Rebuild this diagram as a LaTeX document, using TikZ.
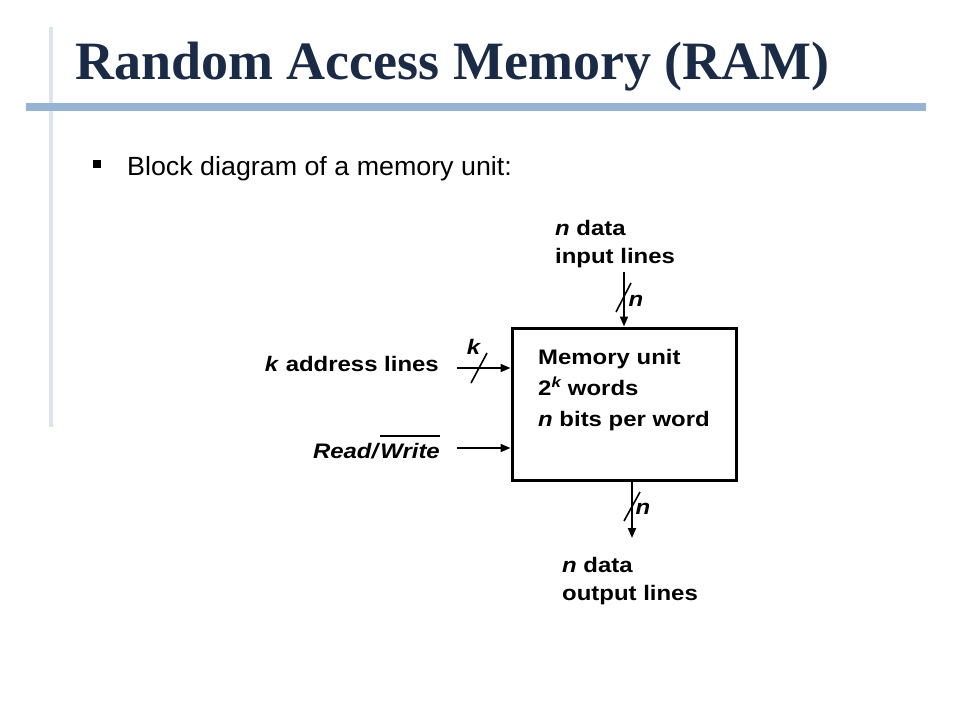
\documentclass[tikz,border=0pt]{standalone}
\usepackage{fontspec}
\setmainfont{Liberation Sans}
\newfontfamily\titlefont{Liberation Serif}
\newfontfamily\diagfont[FakeStretch=1.14]{Liberation Sans}
\newfontfamily\bodyfont[FakeStretch=1.02]{Liberation Sans}
\usetikzlibrary{arrows.meta}
\definecolor{titleblue}{HTML}{1A2B48}
\definecolor{barblue}{HTML}{95B3D7}
\definecolor{railblue}{HTML}{DCE4EF}
% bar drawn over a piece of text, as for an active-low signal
\newcommand\activelow[1]{\setbox0\hbox{#1}\rlap{\raisebox{21pt}{\rule{\wd0}{1.6pt}}}\box0}
\begin{document}
\begin{tikzpicture}[x=1pt,y=-1pt,
  lbl/.style={font=\diagfont\bfseries\fontsize{21}{28}\selectfont, inner sep=0pt},
  sig/.style={line width=1.8pt, -{Triangle[length=10pt,width=8pt]}},
  busmark/.style={line width=1.6pt},
  membox/.style={draw, line width=3pt, minimum width=224pt, minimum height=152pt, inner sep=0pt}]
\useasboundingbox (0,0) rectangle (960,720);
% slide frame
\draw[railblue, line width=4pt] (51,27) -- (51,427);
\fill[barblue] (26,103) rectangle (926,111);
\node[anchor=base west, inner sep=0pt, text=titleblue,
      font=\titlefont\bfseries\fontsize{54}{60}\selectfont] (title) at (75,79) {Random Access Memory (RAM)};
\fill (93,160) rectangle (101,168);
\node[anchor=base west, inner sep=0pt, font=\bodyfont\fontsize{26.3}{30}\selectfont] (bullet) at (127,175) {Block diagram of a memory unit:};
% memory block
\node[membox] (mem) at (624,404) {};
\node[lbl, anchor=base west] (m1) at (538,364) {Memory unit};
\node[lbl, anchor=base west] (m2) at (538,395) {2\textsuperscript{\itshape k} words};
\node[lbl, anchor=base west] (m3) at (538,426) {\textit{n} bits per word};
% data input
\node[lbl, anchor=base west] (in1) at (555,235) {\textit{n} data};
\node[lbl, anchor=base west] (in2) at (555,263) {input lines};
\coordinate (inTop) at (624,272);
\draw[sig] (inTop) -- (mem.north);
\draw[busmark] (616,312) -- (631,283);
\node[lbl, anchor=center] (inN) at (636,301) {\textit{n}};
% data output
\coordinate (outBot) at (632,538);
\draw[sig] (mem.south -| outBot) -- (outBot);
\draw[busmark] (624,521) -- (640,492);
\node[lbl, anchor=center] (outN) at (643,509) {\textit{n}};
\node[lbl, anchor=base west] (out1) at (562,572) {\textit{n} data};
\node[lbl, anchor=base west] (out2) at (562,600) {output lines};
% address lines
\coordinate (addrL) at (457,368);
\draw[sig] (addrL) -- (addrL -| mem.west);
\draw[busmark] (471,383) -- (487,353);
\node[lbl, anchor=center] (addrK) at (474,347) {\textit{k}};
\node[lbl, anchor=base east] (addr) at (439,371) {\textit{k} address lines};
% read / write control
\coordinate (rwL) at (457,448);
\draw[sig] (rwL) -- (rwL -| mem.west);
\node[lbl, anchor=base east] (rw) at (440,458) {\textit{Read/}\activelow{\textit{Write}}};
\end{tikzpicture}
\end{document}
